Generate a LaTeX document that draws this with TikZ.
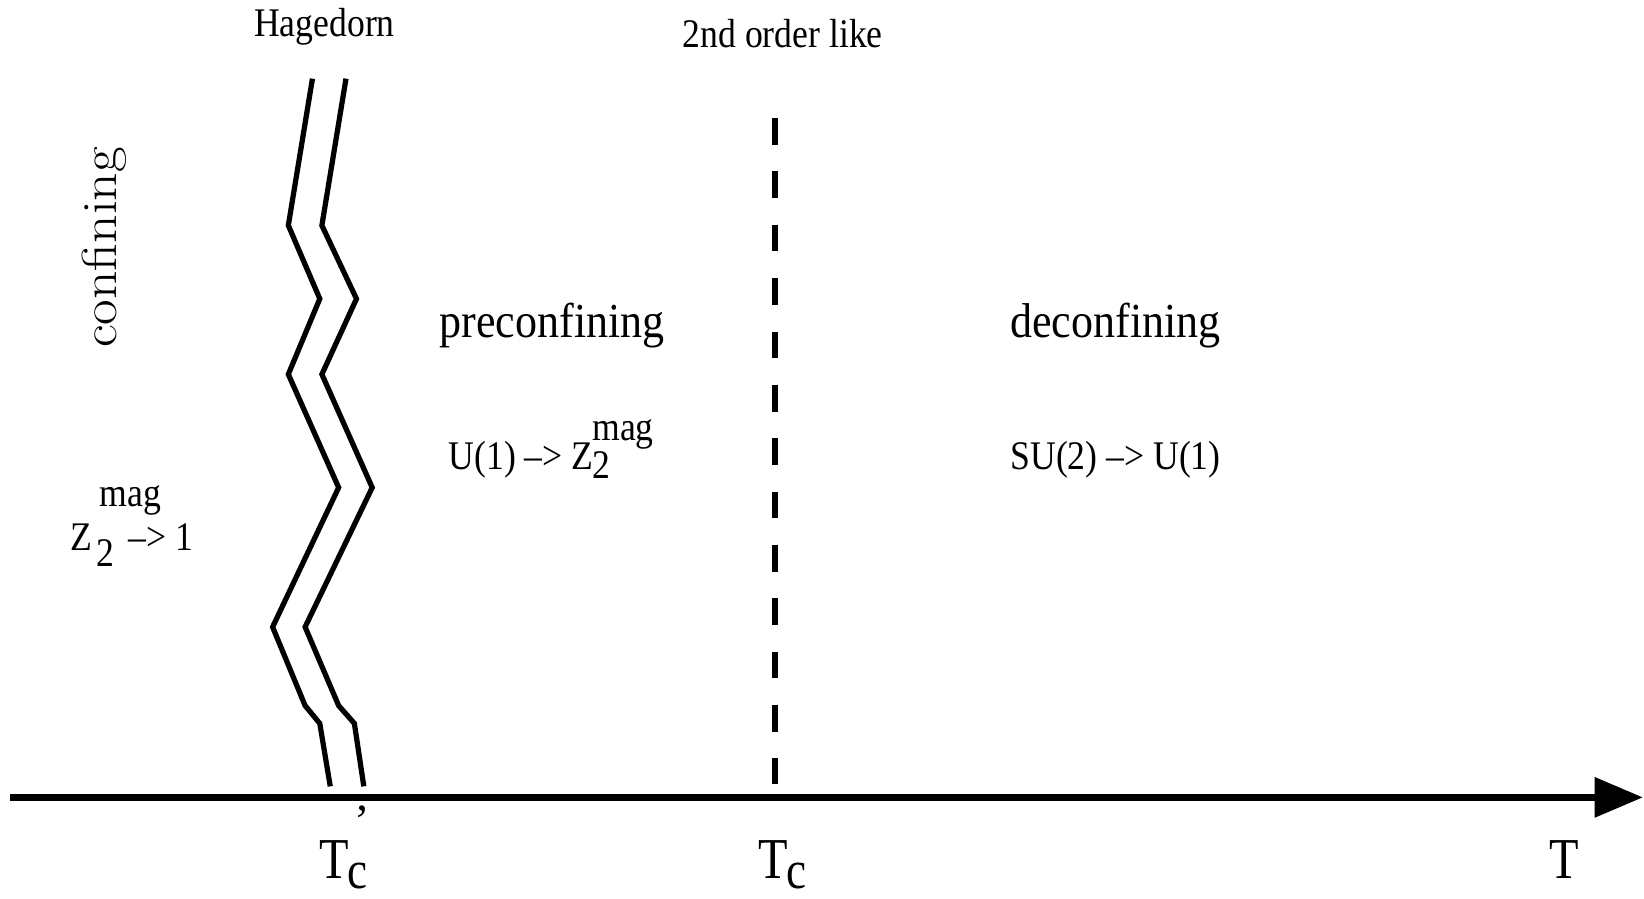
\documentclass[tikz,border=0pt]{standalone}
\usepackage{fontspec}
\setmainfont{Liberation Serif}
\newfontfamily\lmfont{Latin Modern Roman}
\usetikzlibrary{arrows.meta}
\tikzset{
  lbl/.style={inner sep=0pt, outer sep=0pt},
  zig/.style={line width=5pt, line join=miter},
  axisline/.style={line width=6.5pt, -{Triangle[length=46pt,width=37pt]}},
  tcline/.style={line width=5.5pt, dash pattern=on 25.4pt off 25.5pt}
}
\newcommand{\smallf}{\fontsize{34}{40}\selectfont}
\newcommand{\bigf}{\fontsize{42}{48}\selectfont}
\newcommand{\tf}{\fontsize{46}{52}\selectfont}
\newcommand{\vs}[2]{\scalebox{1}[#1]{#2}}
\begin{document}
\begin{tikzpicture}[x=1pt,y=-1pt]
\useasboundingbox (0,0) rectangle (1568,857);
% axis
\coordinate (axL) at (10,760.5);
\coordinate (axR) at (1567,760.5);
\draw[axisline] (axL) -- (axR);
% Hagedorn double zigzag
\draw[zig] (298,75) -- (275,215) -- (305,285) -- (275,357) -- (323,465) -- (260,598) -- (291,673) -- (305,690) -- (315,750);
\draw[zig] (330,75) -- (307,215) -- (340,285) -- (307,357) -- (355,465) -- (291,598) -- (323,673) -- (338,690) -- (347,750);
% Tc dashed line
\coordinate (dtop) at (739.5,112.6);
\coordinate (dbot) at (739.5,748);
\draw[tcline] (dtop) -- (dbot);
% top labels
\node[lbl, anchor=base] (hag) at (309.5,35) {\smallf\vs{1.14}{Hagedorn}};
\node[lbl, anchor=base] (sec) at (746.5,45) {\smallf\vs{1.14}{2nd order like}};
% region labels
\node[lbl, rotate=90] (conf) at (99,236) {\fontsize{47}{52}\lmfont\scalebox{1.13}[1]{confining}};
\node[lbl, anchor=base] (pre) at (526.5,322) {\bigf\vs{1.11}{preconfining}};
\node[lbl, anchor=base] (dec) at (1064,322) {\bigf\vs{1.11}{deconfining}};
% symmetry breaking labels
\node[lbl, anchor=base west] (u1) at (428,448) {\smallf\vs{1.14}{U(1) –> Z}};
\node[lbl, anchor=base west] (u1s) at (565,456) {\smallf\vs{1.14}{2}};
\node[lbl, anchor=base west] (u1m) at (565,420) {\smallf\vs{1.14}{mag}};
\node[lbl, anchor=base] (su2) at (1064,448) {\smallf\vs{1.14}{SU(2) –> U(1)}};
\node[lbl, anchor=base west] (zl) at (67,525) {\smallf\vs{1.14}{Z}};
\node[lbl, anchor=base west] (zls) at (92,540) {\smallf\vs{1.14}{2}};
\node[lbl, anchor=base west] (zlm) at (95,483) {\smallf\vs{1.14}{mag}};
\node[lbl, anchor=base west] (zla) at (123,525) {\smallf\vs{1.14}{–> 1}};
% axis labels
\node[lbl, anchor=base west] (tcp) at (305,838) {\tf\vs{1.2}{T}};
\node[lbl, anchor=base west] (tcps) at (331,847) {\fontsize{43}{50}\selectfont\vs{1.2}{c}};
\node[lbl, anchor=north] (prime) at (345,769) {\fontsize{44}{50}\selectfont ’};
\node[lbl, anchor=base west] (tc) at (723,838) {\tf\vs{1.2}{T}};
\node[lbl, anchor=base west] (tcs) at (750,847) {\fontsize{43}{50}\selectfont\vs{1.2}{c}};
\node[lbl, anchor=base west] (tt) at (1478,838) {\tf\vs{1.2}{T}};
\end{tikzpicture}
\end{document}
